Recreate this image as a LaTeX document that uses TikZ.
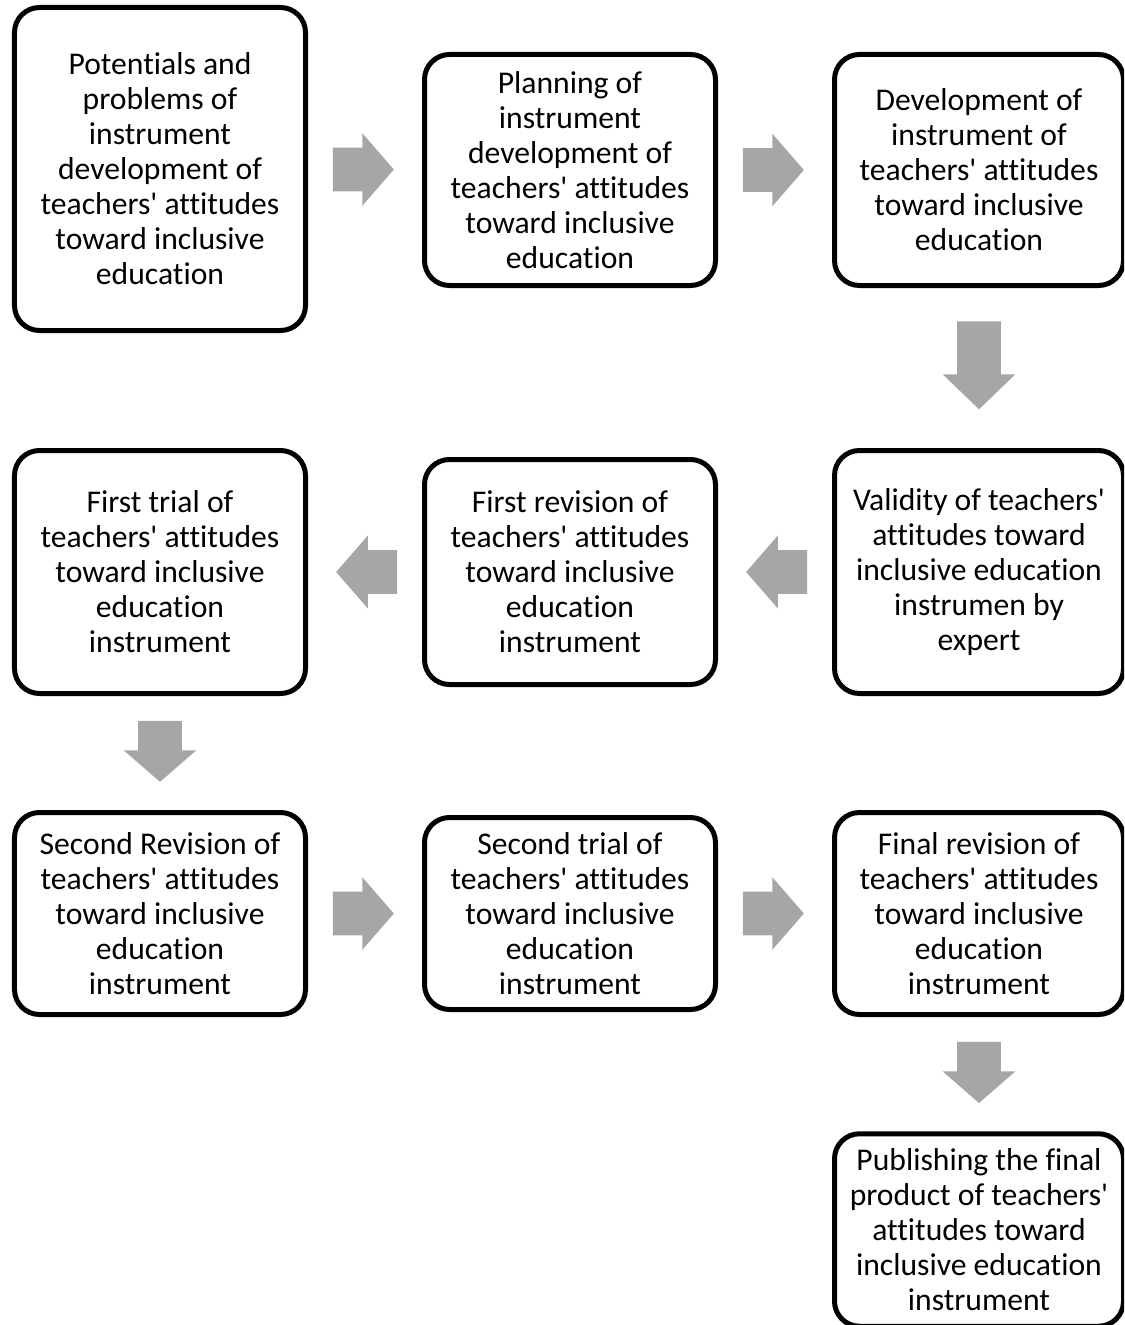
\documentclass[tikz,border=0pt]{standalone}
\usepackage{fontspec}
\setmainfont{Carlito}[Ligatures={TeXOff,NoCommon}]
\usetikzlibrary{calc,shapes.arrows}

\definecolor{arrowgray}{HTML}{A6A6A6}

\tikzset{
    stepbox/.style={draw, line width=0.1cm, rounded corners=0.5cm, align=center, inner sep=0pt,
        font=\fontsize{18}{19.9}\selectfont},
    flowarrow/.style={single arrow, fill=arrowgray, draw=none, inner xsep=0pt, inner ysep=0.43cm,
        minimum height=1.22cm, single arrow head extend=0.29cm, single arrow tip angle=98, anchor=tail}
}

\begin{document}
\begin{tikzpicture}
        \useasboundingbox (0,0) rectangle (22.48,-26.5);
        \clip (0,0) rectangle (22.48,-26.5);
        \def\colA{3.2} \def\colB{11.4} \def\colC{19.58} \def\boxW{5.82} \def\half{0.65}
        % first row
        \node[stepbox, minimum width=\boxW cm, minimum height=6.46cm] (potential) at (\colA,-3.38) {Potentials and\\problems of\\instrument\\development of\\teachers' attitudes\\toward inclusive\\education};
        \node[stepbox, minimum width=\boxW cm, minimum height=4.62cm] (planning) at (\colB,-3.4) {Planning of\\instrument\\development of\\teachers' attitudes\\toward inclusive\\education};
        \node[stepbox, minimum width=5.78cm, minimum height=4.62cm] (develop) at (\colC,-3.4) {Development of\\instrument of\\teachers' attitudes\\toward inclusive\\education};
        % second row
        \node[stepbox, minimum width=5.78cm, minimum height=4.86cm] (validity) at (\colC,-11.44) {Validity of teachers'\\attitudes toward\\inclusive education\\instrumen by\\expert};
        \node[stepbox, minimum width=\boxW cm, minimum height=4.5cm] (revisionA) at (\colB,-11.44) {First revision of\\teachers' attitudes\\toward inclusive\\education\\instrument};
        \node[stepbox, minimum width=\boxW cm, minimum height=4.86cm] (trialA) at (\colA,-11.44) {First trial of\\teachers' attitudes\\toward inclusive\\education\\instrument};
        % third row
        \node[stepbox, minimum width=\boxW cm, minimum height=4.04cm] (revisionB) at (\colA,-18.27) {Second Revision of\\teachers' attitudes\\toward inclusive\\education\\instrument};
        \node[stepbox, minimum width=\boxW cm, minimum height=3.84cm] (trialB) at (\colB,-18.27) {Second trial of\\teachers' attitudes\\toward inclusive\\education\\instrument};
        \node[stepbox, minimum width=5.78cm, minimum height=4.04cm] (final) at (\colC,-18.27) {Final revision of\\teachers' attitudes\\toward inclusive\\education\\instrument};
        % last step
        \node[stepbox, minimum width=5.78cm, minimum height=3.85cm] (publish) at (\colC,-24.6) {Publishing the final\\product of teachers'\\attitudes toward\\inclusive education\\instrument};
        % block arrows, placed by their tails
        \node[flowarrow] (potplan) at ($(potential.east)!0.5!(planning.west) + (-\half,0)$) {};
        \node[flowarrow] (plandev) at ($(planning.east)!0.5!(develop.west) + (-\half,0)$) {};
        \node[flowarrow, rotate=-90, minimum height=1.76cm, single arrow tip angle=92] (devval) at ($(develop.south)!0.5!(validity.north) + (0,0.94)$) {};
        \node[flowarrow, rotate=180] (valrev) at ($(validity.west)!0.5!(revisionA.east) + (\half,0)$) {};
        \node[flowarrow, rotate=180] (revtrial) at ($(revisionA.west)!0.5!(trialA.east) + (\half,0)$) {};
        \node[flowarrow, rotate=-90] (trialrev) at ($(trialA.south)!0.5!(revisionB.north) + (0,\half)$) {};
        \node[flowarrow] (revtrialB) at ($(revisionB.east)!0.5!(trialB.west) + (-\half,0)$) {};
        \node[flowarrow] (trialfin) at ($(trialB.east)!0.5!(final.west) + (-\half,0)$) {};
        \node[flowarrow, rotate=-90] (finpub) at ($(final.south)!0.5!(publish.north) + (0,\half)$) {};
\end{tikzpicture}
\end{document}
